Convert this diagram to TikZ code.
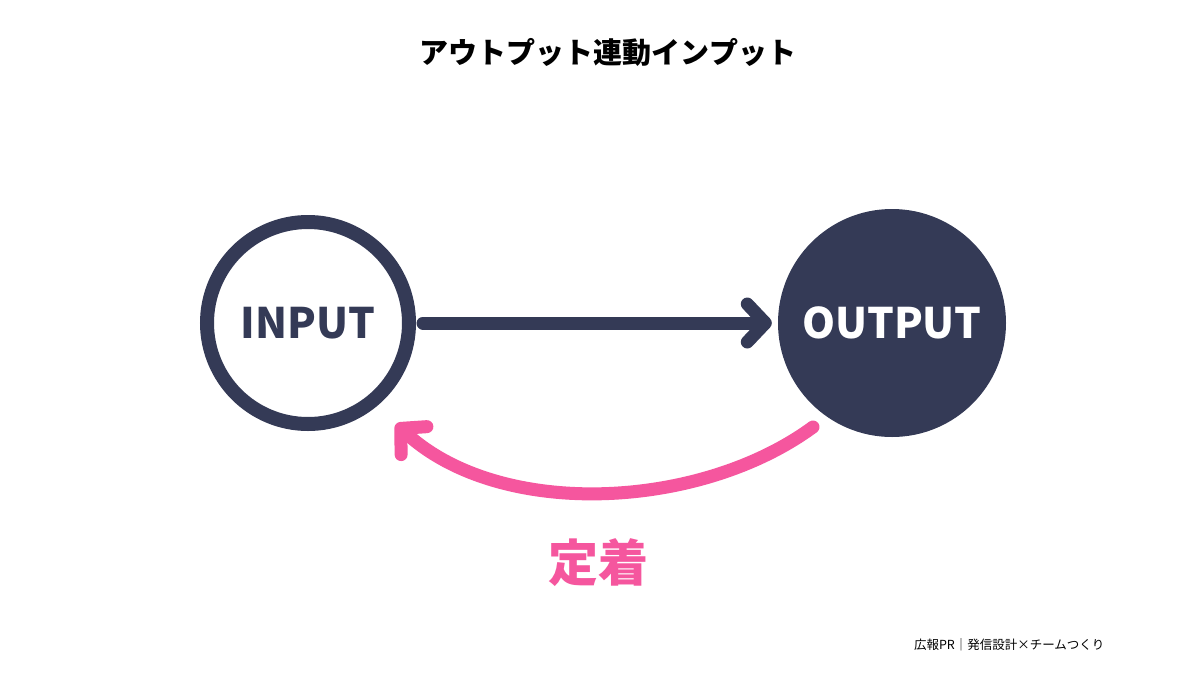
\documentclass[tikz,border=0pt]{standalone}
\usepackage{fontspec}
\setmainfont{Noto Sans CJK JP}
\usetikzlibrary{arrows.meta}
\definecolor{navy}{HTML}{343A56}
\definecolor{pink}{HTML}{F5569E}
\begin{document}
\begin{tikzpicture}[x=1pt, y=-1pt,
  ring/.style={circle, draw=navy, line width=14pt, minimum size=202pt, text=navy, font=\bfseries\fontsize{42}{42}\selectfont},
  disc/.style={circle, fill=navy, minimum size=228pt, text=white, font=\bfseries\fontsize{42}{42}\selectfont},
  link/.style={line width=13pt, line cap=round, -{Straight Barb[length=18pt, width=38pt, line cap=round, line join=round]}}]
\useasboundingbox (0,0) rectangle (1200,675);
\fill[white] (0,0) rectangle (1200,675);
\node[font=\bfseries\fontsize{29}{29}\selectfont] (title) at (608,52) {アウトプット連動インプット};
\node[ring] (in) at (308,323) {INPUT};
\node[disc] (out) at (892,323) {OUTPUT};
\draw[link, navy] (in.east) ++(7,0) coordinate (a) -- ([xshift=-6pt]out.west);
\coordinate (s) at (813,427);
\coordinate (e) at (396,424);
\draw[link, pink] (s) .. controls (700,510) and (500,520) .. (e);
\node[pink, font=\bfseries\fontsize{50}{50}\selectfont] (fix) at (598,563) {定着};
\node[font=\fontsize{12.5}{12.5}\selectfont, anchor=east] (foot) at (1108,645) {広報PR｜発信設計×チームつくり};
\end{tikzpicture}
\end{document}
